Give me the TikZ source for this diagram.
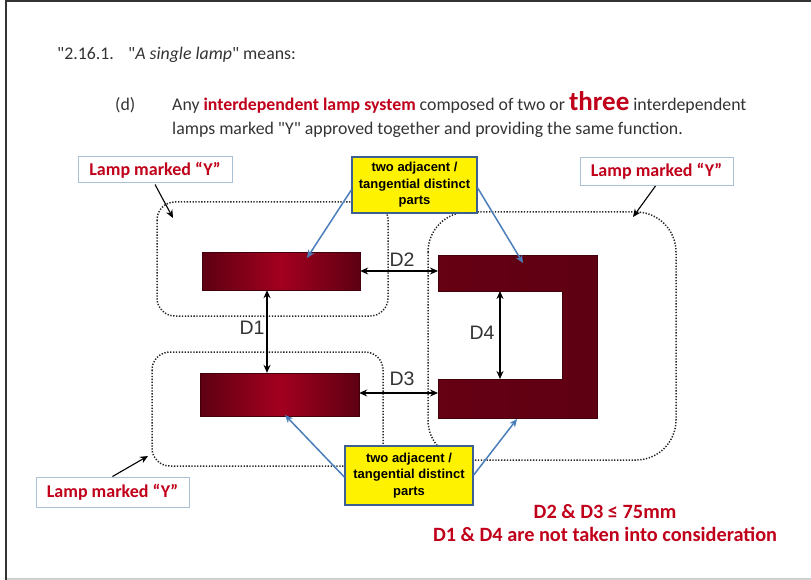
\documentclass[tikz,border=0pt]{standalone}
\usepackage{fontspec}
\setmainfont{Carlito}[Ligatures=TeXOff]
\newfontfamily\ari{Liberation Sans}
\usetikzlibrary{arrows.meta}
\definecolor{redtxt}{HTML}{C0001A}
\definecolor{lampdark}{HTML}{5E0012}
\definecolor{lampmid}{HTML}{A3001F}
\definecolor{udark}{HTML}{660013}
\definecolor{umid}{HTML}{82001A}
\definecolor{labborder}{HTML}{A9C0D6}
\definecolor{yelborder}{HTML}{3D5F92}
\definecolor{bluearr}{HTML}{4A7EBB}
\definecolor{dgray}{HTML}{333333}
\tikzset{
  lamplabel/.style={draw=labborder, line width=1pt, fill=white, text=redtxt, font=\fontsize{18}{20}\selectfont\bfseries, inner sep=0pt},
  yelbox/.style={draw=yelborder, line width=1.4pt, fill=yellow, font=\ari\fontsize{13}{16.5}\selectfont\bfseries, align=center, inner sep=0pt},
  dotbox/.style={draw=black!85, line width=1.5pt, dash pattern=on 1.3pt off 1.6pt},
  lampbar/.style={left color=lampdark, right color=lampdark, middle color=lampmid, draw=lampdark!70!black, line width=0.3pt, inner sep=0pt},
  darr/.style={draw=black, line width=1.3pt, {Stealth[length=8pt,width=7pt]}-{Stealth[length=8pt,width=7pt]}},
  karr/.style={draw=black, line width=1.1pt, -{Stealth[length=8pt,width=7pt]}},
  barr/.style={draw=bluearr, line width=1.5pt, -{Stealth[length=8pt,width=7pt]}},
  dlab/.style={text=dgray, font=\ari\fontsize{19.5}{21}\selectfont, inner sep=0pt},
  body/.style={anchor=base west, inner sep=0pt, font=\fontsize{17.8}{20}\selectfont, text=black!80}
}
\begin{document}
\begin{tikzpicture}[x=1pt,y=-1pt]
\useasboundingbox (0,0) rectangle (811,580);
% frame
\draw[dgray, line width=2pt] (6,580) -- (6,1.5) -- (811,1.5);
\draw[black!18, line width=2pt] (7,578.5) -- (811,578.5);

% header text
\node[body] (h1) at (57,60) {"2.16.1.};
\node[body] (h2) at (128,60) {"\textit{A single lamp}" means:};
\node[body] (d) at (115,111) {(d)};
\node[body] (l1) at (172,111) {Any \textcolor{redtxt}{\bfseries interdependent lamp system} composed of two or {\fontsize{27}{27}\selectfont\bfseries\color{redtxt}three} interdependent};
\node[body] (l2) at (172,135) {lamps marked "Y" approved together and providing the same function.};

% dotted lamp outlines
\draw[dotbox, rounded corners=18pt] (157,202) rectangle (388,316);
\draw[dotbox, rounded corners=18pt] (152,352) rectangle (383,466);
\draw[dotbox, rounded corners=40pt] (428,212) rectangle (676,460);

% lamps
\node[lampbar, minimum width=158pt, minimum height=38pt] (b1) at (281,271) {};
\node[lampbar, minimum width=159pt, minimum height=43pt] (b2) at (279.5,394.5) {};
\shade[left color=udark, middle color=umid, right color=lampdark, draw=lampdark!70!black, line width=0.3pt]
  (438,255) -- (597,255) -- (597,418) -- (438,418) -- (438,379) -- (562,379) -- (562,291) -- (438,291) -- cycle;
\coordinate (uTopL) at (438,271);
\coordinate (uBotL) at (438,393);
\coordinate (uInTop) at (500,291);
\coordinate (uInBot) at (500,379);
\coordinate (uTop) at (523,263);
\coordinate (uBot) at (517,419);

% distance arrows
\draw[darr] (b1.east) -- (uTopL);
\draw[darr] (b1.south -| 267,0) -- (b2.north -| 267,0);
\draw[darr] (b2.east |- uBotL) -- (uBotL);
\draw[darr] (uInTop) -- (uInBot);
\node[dlab] (D2) at (402,260) {D2};
\node[dlab] (D1) at (252,328) {D1};
\node[dlab] (D3) at (402,379) {D3};
\node[dlab] (D4) at (482,333) {D4};

% lamp labels
\node[lamplabel, minimum width=154pt, minimum height=26pt] (ltl) at (155,170) {Lamp marked “Y”};
\node[lamplabel, minimum width=153pt, minimum height=28pt] (ltr) at (656.5,171.5) {Lamp marked “Y”};
\node[lamplabel, minimum width=153pt, minimum height=30pt] (lbl) at (112.5,492) {Lamp marked “Y”};
\coordinate (ptl) at (173,218);
\coordinate (ptr) at (633,217);
\coordinate (pbl) at (148,456);
\draw[karr] (ltl.south) ++(0,1) -- (ptl);
\draw[karr] (ltr.south) ++(-1,0) -- (ptr);
\draw[karr] (lbl.north) -- (pbl);

% yellow boxes
\node[yelbox, minimum width=125pt, minimum height=56pt] (y1) at (414.5,185) {two adjacent /\\tangential distinct\\parts};
\node[yelbox, minimum width=128pt, minimum height=59pt] (y2) at (409,475.5) {two adjacent /\\tangential distinct\\parts};
\coordinate (pb1) at (307,258);
\coordinate (pb2) at (285,415);
\draw[barr] (y1.west |- 0,190) -- (pb1);
\draw[barr] (y1.east |- 0,188) -- (uTop);
\draw[barr] (y2.west |- 0,477) -- (pb2);
\draw[barr] (y2.east |- 0,475) -- (uBot);

% conclusion
\node[text=redtxt, font=\fontsize{20.3}{23}\selectfont\bfseries, align=center, inner sep=0pt] (concl) at (605,523) {D2 \& D3 ≤ 75mm\\D1 \& D4 are not taken into consideration};
\end{tikzpicture}
\end{document}
